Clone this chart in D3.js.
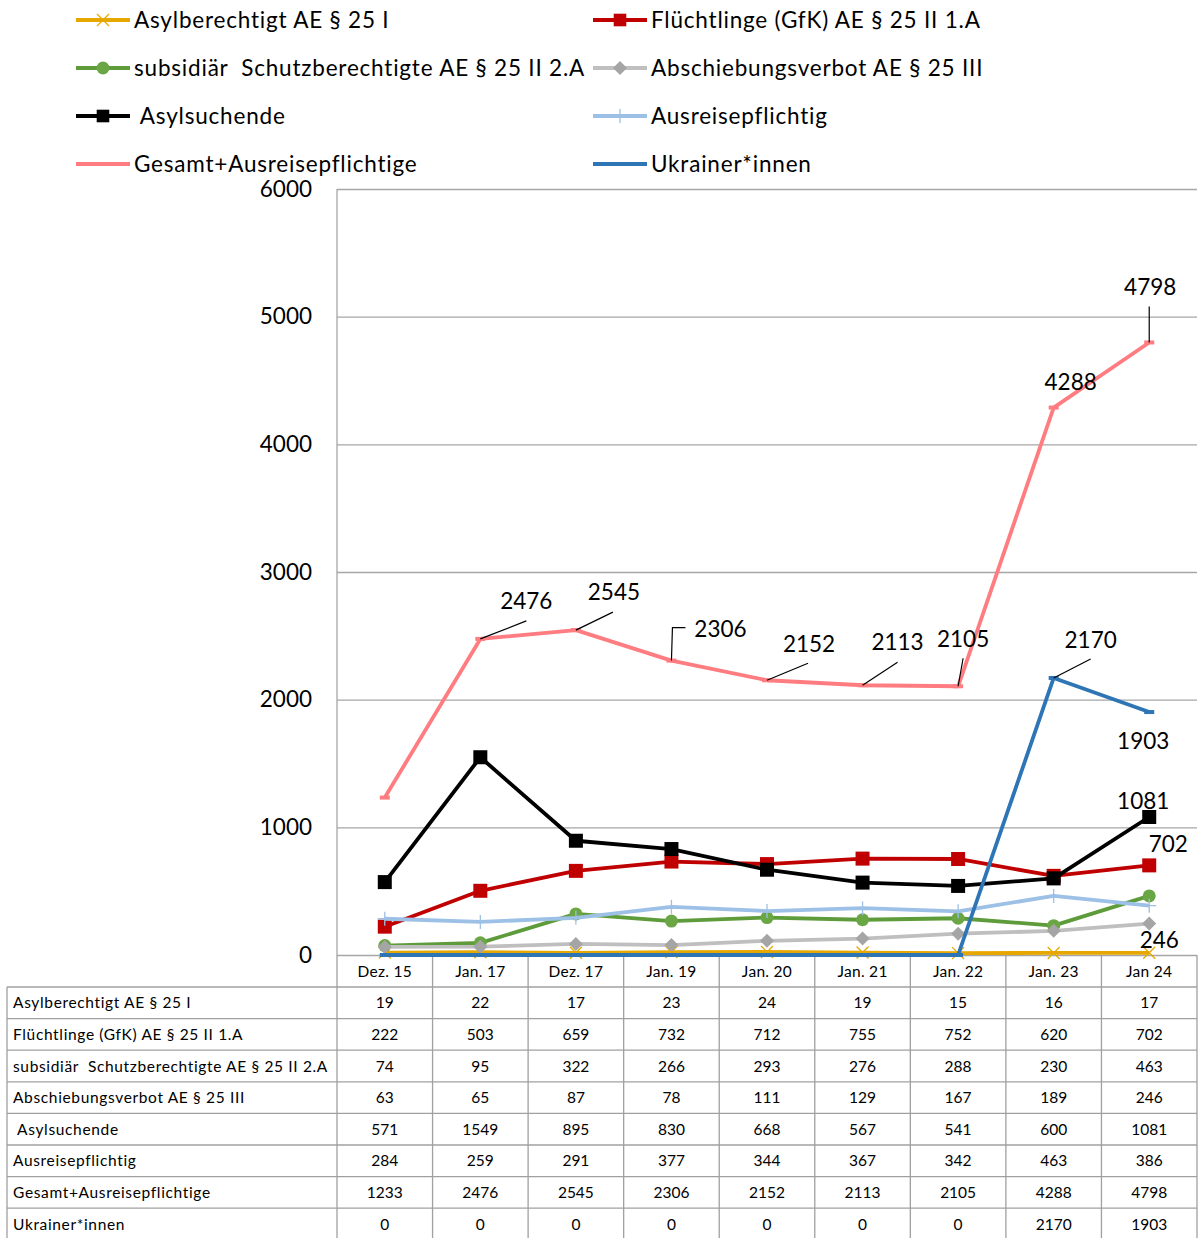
<!DOCTYPE html>
<html>
<head>
<meta charset="utf-8">
<script src="https://cdn.jsdelivr.net/npm/d3@7"></script>
<style>
  body { margin: 0; background: #fff; }
  svg text { font-family: Lato, "Open Sans", sans-serif; fill: #000; white-space: pre; }
</style>
</head>
<body>
<svg id="chart" width="1200" height="1238"></svg>
<script>
// categories (x axis / table header)
const categories = ['Dez. 15', 'Jan. 17', 'Dez. 17', 'Jan. 19', 'Jan. 20', 'Jan. 21', 'Jan. 22', 'Jan. 23', 'Jan 24'];

// series names as in legend / table
const seriesNames = [
    'Asylberechtigt AE § 25 I',
    'Flüchtlinge (GfK) AE § 25 II 1.A',
    'subsidiär  Schutzberechtigte AE § 25 II 2.A',
    'Abschiebungsverbot AE § 25 III',
    ' Asylsuchende',
    'Ausreisepflichtig',
    'Gesamt+Ausreisepflichtige',
    'Ukrainer*innen'
];

// values
const asylberechtigt = [19, 22, 17, 23, 24, 19, 15, 16, 17];
const fluechtlinge = [222, 503, 659, 732, 712, 755, 752, 620, 702];
const subsidiaer = [74, 95, 322, 266, 293, 276, 288, 230, 463];
const abschiebungsverbot = [63, 65, 87, 78, 111, 129, 167, 189, 246];
const asylsuchende = [571, 1549, 895, 830, 668, 567, 541, 600, 1081];
const ausreisepflichtig = [284, 259, 291, 377, 344, 367, 342, 463, 386];
const gesamt = [1233, 2476, 2545, 2306, 2152, 2113, 2105, 4288, 4798];
const ukrainer = [0, 0, 0, 0, 0, 0, 0, 2170, 1903];

const yTicks = [0, 1000, 2000, 3000, 4000, 5000, 6000];

const seriesValues = [asylberechtigt, fluechtlinge, subsidiaer, abschiebungsverbot,
    asylsuchende, ausreisepflichtig, gesamt, ukrainer];

// styling per series
const seriesStyle = [
    { color: '#E6A800', marker: 'x', mColor: '#E6A800' },
    { color: '#C00000', marker: 'square', mColor: '#C00000' },
    { color: '#5E9B3A', marker: 'circle', mColor: '#6BA644' },
    { color: '#BFBFBF', marker: 'diamond', mColor: '#A5A5A5' },
    { color: '#000000', marker: 'square', mColor: '#000000' },
    { color: '#9DC0E6', marker: 'plus', mColor: '#9DC0E6' },
    { color: '#FF7C80', marker: 'dash', mColor: '#FF7C80' },
    { color: '#2E75B6', marker: 'dash', mColor: '#2E75B6' }
];

// data labels: series index, category index, label offset from point, leader path (relative)
const labels = [
    { s: 6, i: 1, dx: 46, dy: -38, leader: [[0, 0], [46, -18]] },
    { s: 6, i: 2, dx: 38, dy: -38, leader: [[0, 0], [37, -18]] },
    { s: 6, i: 3, dx: 49, dy: -32, leader: [[0, 0], [1, -33], [14, -33]] },
    { s: 6, i: 4, dx: 42, dy: -36, leader: [[0, 0], [41, -17]] },
    { s: 6, i: 5, dx: 35, dy: -43, leader: [[0, 0], [35, -23]] },
    { s: 6, i: 6, dx: 5, dy: -47, leader: [[0, 0], [5, -28]] },
    { s: 6, i: 7, dx: 17, dy: -26, leader: null },
    { s: 6, i: 8, dx: 1, dy: -55, leader: [[0, 0], [0, -36]] },
    { s: 7, i: 7, dx: 37, dy: -38, leader: [[0, 0], [37, -19]] },
    { s: 7, i: 8, dx: -6, dy: 29, leader: null },
    { s: 4, i: 8, dx: -6, dy: -16, leader: null },
    { s: 1, i: 8, dx: 19, dy: -21, leader: null },
    { s: 3, i: 8, dx: 10, dy: 16, leader: null }
];

const plot = { left: 337, right: 1197, top: 189, bottom: 955 };
const table = { left: 7, top: 987, rowH: 31.6 };

const svg = d3.select('#chart');

const x = d3.scaleBand().domain(categories).range([plot.left, plot.right]);
const y = d3.scaleLinear().domain([0, 6000]).range([plot.bottom, plot.top]);
const cx = (i) => x(categories[i]) + x.bandwidth() / 2;

// gridlines
svg.append('g')
    .attr('transform', `translate(${plot.left},0)`)
    .call(d3.axisLeft(y).tickValues(yTicks).tickSize(-(plot.right - plot.left)).tickFormat(''))
    .call(g => g.select('.domain').remove())
    .call(g => g.selectAll('line').attr('stroke', '#A6A6A6').attr('stroke-width', 1.3));

// y axis line
svg.append('line')
    .attr('x1', plot.left).attr('x2', plot.left)
    .attr('y1', plot.top).attr('y2', plot.bottom)
    .attr('stroke', '#A6A6A6').attr('stroke-width', 1.3);

// y tick labels
svg.append('g')
    .attr('transform', `translate(${plot.left},0)`)
    .call(d3.axisLeft(y).tickValues(yTicks).tickSize(0).tickPadding(25).tickFormat(d3.format('d')))
    .call(g => g.select('.domain').remove())
    .call(g => g.selectAll('text').style('font-size', '22.5px').attr('fill', '#000'));

// table
const rowY = (r) => table.top + r * table.rowH;
const tg = svg.append('g');
const gridColor = '#A0A0A0';
// horizontal lines
for (let r = 0; r <= seriesNames.length; r++) {
    tg.append('line')
        .attr('x1', table.left).attr('x2', plot.right)
        .attr('y1', rowY(r)).attr('y2', rowY(r))
        .attr('stroke', gridColor).attr('stroke-width', 1.3);
}
// vertical lines
tg.append('line')
    .attr('x1', table.left).attr('x2', table.left)
    .attr('y1', table.top).attr('y2', rowY(seriesNames.length))
    .attr('stroke', gridColor).attr('stroke-width', 1.3);
categories.forEach((c, i) => {
    tg.append('line')
        .attr('x1', x(c)).attr('x2', x(c))
        .attr('y1', plot.bottom).attr('y2', rowY(seriesNames.length))
        .attr('stroke', gridColor).attr('stroke-width', 1.3);
});
tg.append('line')
    .attr('x1', plot.right).attr('x2', plot.right)
    .attr('y1', plot.bottom).attr('y2', rowY(seriesNames.length))
    .attr('stroke', gridColor).attr('stroke-width', 1.3);

// header
tg.selectAll('.hdr').data(categories).enter().append('text')
    .attr('class', 'hdr')
    .attr('x', (d, i) => cx(i))
    .attr('y', (plot.bottom + table.top) / 2 + 5.5)
    .attr('text-anchor', 'middle')
    .style('font-size', '15.5px')
    .style('letter-spacing', '0.3px')
    .text(d => d);

// row names + values
seriesNames.forEach((name, r) => {
    tg.append('text')
        .attr('x', table.left + 6)
        .attr('y', rowY(r) + table.rowH / 2 + 5.5)
        .style('font-size', '15.5px')
        .style('letter-spacing', '0.65px')
        .text(name);
    seriesValues[r].forEach((v, i) => {
        tg.append('text')
            .attr('x', cx(i))
            .attr('y', rowY(r) + table.rowH / 2 + 5.5)
            .attr('text-anchor', 'middle')
            .style('font-size', '15.5px')
            .text(v);
    });
});

// marker drawing
function drawMarker(g, type, px, py, color, scale = 1) {
    if (type === 'square') {
        const s = 14 * scale;
        g.append('rect').attr('x', px - s / 2).attr('y', py - s / 2)
            .attr('width', s).attr('height', s).attr('fill', color);
    } else if (type === 'circle') {
        g.append('circle').attr('cx', px).attr('cy', py).attr('r', 6.5 * scale).attr('fill', color);
    } else if (type === 'diamond') {
        const s = 7 * scale;
        g.append('path')
            .attr('d', `M${px},${py - s}L${px + s},${py}L${px},${py + s}L${px - s},${py}Z`)
            .attr('fill', color);
    } else if (type === 'x') {
        const s = 6 * scale;
        g.append('path')
            .attr('d', `M${px - s},${py - s}L${px + s},${py + s}M${px - s},${py + s}L${px + s},${py - s}`)
            .attr('stroke', color).attr('stroke-width', 1.3).attr('fill', 'none');
    } else if (type === 'plus') {
        const s = 7 * scale;
        g.append('path')
            .attr('d', `M${px - s},${py}L${px + s},${py}M${px},${py - s}L${px},${py + s}`)
            .attr('stroke', color).attr('stroke-width', 1.3).attr('fill', 'none');
    } else if (type === 'dash') {
        g.append('line').attr('x1', px - 5 * scale).attr('x2', px + 5 * scale)
            .attr('y1', py).attr('y2', py)
            .attr('stroke', color).attr('stroke-width', 4);
    }
}

// series lines
const line = d3.line().x((d, i) => cx(i)).y(d => y(d));
const lg = svg.append('g');
seriesValues.forEach((vals, s) => {
    const st = seriesStyle[s];
    lg.append('path')
        .datum(vals)
        .attr('d', line)
        .attr('fill', 'none')
        .attr('stroke', st.color)
        .attr('stroke-width', 3.8)
        .attr('stroke-linejoin', 'round');
    vals.forEach((v, i) => drawMarker(lg, st.marker, cx(i), y(v), st.mColor));
});

// data labels
const dl = svg.append('g');
labels.forEach(l => {
    const px = cx(l.i), py = y(seriesValues[l.s][l.i]);
    if (l.leader) {
        dl.append('path')
            .attr('d', 'M' + l.leader.map(p => `${px + p[0]},${py + p[1]}`).join('L'))
            .attr('fill', 'none').attr('stroke', '#000').attr('stroke-width', 1.2);
    }
    dl.append('text')
        .attr('x', px + l.dx)
        .attr('y', py + l.dy + 8)
        .attr('text-anchor', 'middle')
        .style('font-size', '22.5px')
        .text(seriesValues[l.s][l.i]);
});

// legend (two columns, four rows)
const legend = svg.append('g');
seriesNames.forEach((name, k) => {
    const col = k % 2, row = Math.floor(k / 2);
    const lx = col === 0 ? 76 : 593;
    const ly = 20 + row * 48;
    const st = seriesStyle[k];
    legend.append('line')
        .attr('x1', lx).attr('x2', lx + 54)
        .attr('y1', ly).attr('y2', ly)
        .attr('stroke', st.color).attr('stroke-width', 3.8);
    if (st.marker !== 'dash') drawMarker(legend, st.marker, lx + 27, ly, st.mColor, st.marker === 'square' ? 0.9 : 1);
    legend.append('text')
        .attr('x', lx + 58)
        .attr('y', ly + 8)
        .style('font-size', '22.5px')
        .style('letter-spacing', '0.8px')
        .text(name);
});
</script>
</body>
</html>
